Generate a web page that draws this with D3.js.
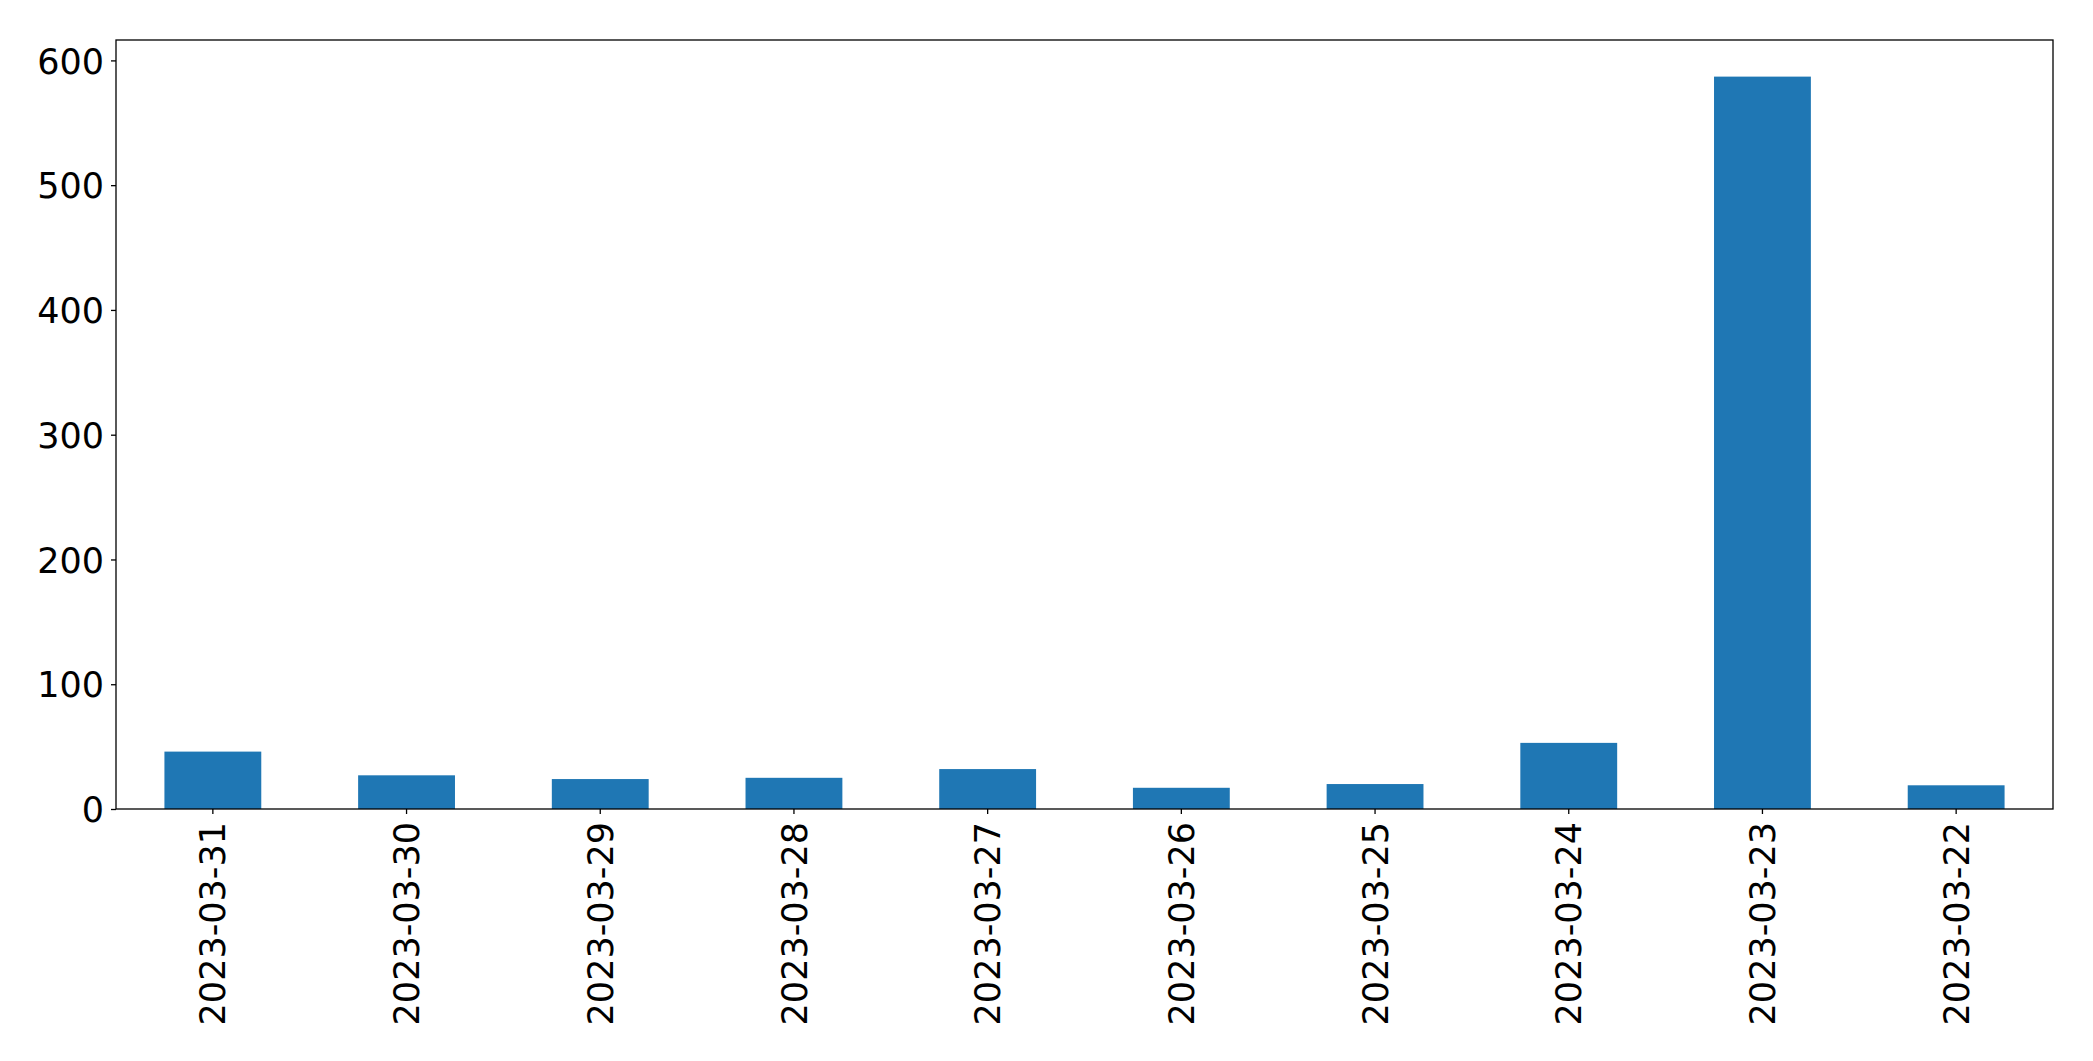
<!DOCTYPE html>
<html>
<head>
<meta charset="utf-8">
<script src="https://cdn.jsdelivr.net/npm/d3@7"></script>
<style>
  html, body { margin: 0; padding: 0; background: #fff; }
  svg text { font-family: "DejaVu Sans", sans-serif; fill: #000; }
</style>
</head>
<body>
<script>
// Data
const dates = [
  "2023-03-31", "2023-03-30", "2023-03-29", "2023-03-28", "2023-03-27",
  "2023-03-26", "2023-03-25", "2023-03-24", "2023-03-23", "2023-03-22"
];
const counts = [46, 27, 24, 25, 32, 17, 20, 53, 587, 19];
const yTicks = [0, 100, 200, 300, 400, 500, 600];

// Setup reference values
const w = 2093;
const h = 1061;
const margin = { top: 40, right: 40, bottom: 252, left: 116 };
const innerW = w - margin.left - margin.right;
const innerH = h - margin.top - margin.bottom;

const svg = d3.select("body")
  .append("svg")
  .attr("width", w)
  .attr("height", h);

const g = svg.append("g")
  .attr("transform", `translate(${margin.left},${margin.top})`);

// Scales (matplotlib style: bar width 0.5 of a slot, 5% top margin)
const x = d3.scaleBand()
  .domain(dates)
  .range([0, innerW])
  .paddingInner(0.5)
  .paddingOuter(0.25);

const y = d3.scaleLinear()
  .domain([0, d3.max(counts) * 1.05])
  .range([innerH, 0]);

// Bars
g.selectAll("rect.bar")
  .data(dates)
  .enter()
  .append("rect")
  .attr("class", "bar")
  .attr("x", d => x(d))
  .attr("y", (d, i) => y(counts[i]))
  .attr("width", x.bandwidth())
  .attr("height", (d, i) => y(0) - y(counts[i]))
  .attr("fill", "#1f77b4");

// Y axis
const yAxis = g.append("g")
  .call(d3.axisLeft(y).tickValues(yTicks).tickSize(5).tickPadding(7).tickSizeOuter(0));
yAxis.select(".domain").remove();
yAxis.selectAll("line").attr("stroke", "#000").attr("stroke-width", 1.3);
yAxis.selectAll("text")
  .style("font-size", "35px")
  .attr("dy", "0.36em");

// X axis
const xAxis = g.append("g")
  .attr("transform", `translate(0,${innerH})`)
  .call(d3.axisBottom(x).tickSize(5).tickSizeOuter(0));
xAxis.select(".domain").remove();
xAxis.selectAll("line").attr("stroke", "#000").attr("stroke-width", 1.3);
xAxis.selectAll("text")
  .style("font-size", "35px")
  .attr("transform", "rotate(-90)")
  .attr("text-anchor", "end")
  .attr("x", -13)
  .attr("y", 0)
  .attr("dy", "0.36em");

// Frame
g.append("rect")
  .attr("x", 0)
  .attr("y", 0)
  .attr("width", innerW)
  .attr("height", innerH)
  .attr("fill", "none")
  .attr("stroke", "#000")
  .attr("stroke-width", 1.3);
</script>
</body>
</html>
